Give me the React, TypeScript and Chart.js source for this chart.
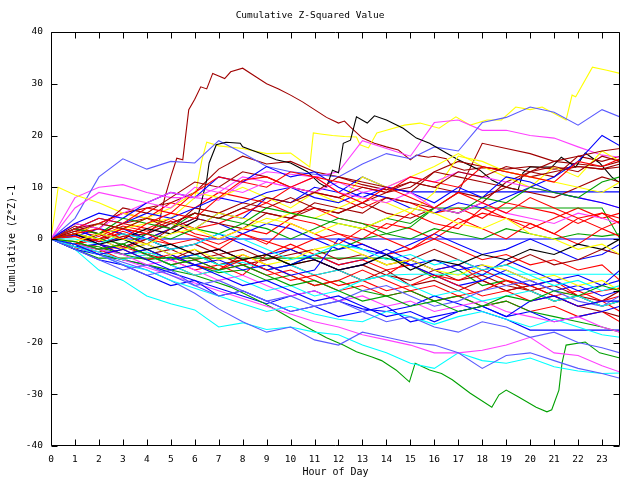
import React, { useEffect, useRef } from "react";
import { Chart, registerables } from "chart.js";

Chart.register(...registerables);

const TITLE = "Cumulative Z-Squared Value";
const X_TITLE = "Hour of Day";
const Y_TITLE = "Cumulative (Z*Z)-1";

const HOURS = [0, 1, 2, 3, 4, 5, 6, 7, 8, 9, 10, 11, 12, 13, 14, 15, 16, 17, 18, 19, 20, 21, 22, 23, 23.75];

// Prominent traces with their own sample times
const DARKRED_PEAK_H = [0, 1, 2, 3, 4, 4.5, 4.75, 5, 5.25, 5.5, 5.75, 6, 6.25, 6.5, 6.75, 7, 7.25, 7.5, 8, 8.5, 9, 9.5, 10, 10.5, 11, 11.5, 12, 12.25, 12.5, 13, 13.5, 14, 14.5, 15, 15.25, 15.75, 16, 16.5, 16.75, 17.25, 18, 19, 20, 21, 22, 23, 23.75];
const DARKRED_PEAK = [0, 1, -1, 0.5, 1, 3, 8, 12, 15.6, 15.3, 25, 27, 29.4, 29, 32, 31.5, 31, 32.3, 33, 31.5, 30, 29, 27.8, 26.5, 25, 23.5, 22.4, 22.8, 21.6, 19.5, 18.5, 17.8, 17.2, 15.3, 16.2, 15.8, 16, 15.5, 14, 13.3, 13.8, 13.5, 14, 13.5, 14, 13.5, 13.9];
const BLACK_TOP_H = [0, 1, 2, 3, 4, 5, 6.1, 6.5, 6.6, 6.9, 7.3, 7.9, 8, 8.7, 9.4, 10, 10.7, 11.2, 11.5, 11.75, 12, 12.2, 12.5, 12.75, 13.2, 13.5, 14, 14.7, 15.25, 15.8, 16.5, 17, 17.9, 18.4, 19, 19.5, 19.7, 20, 20.9, 21.3, 21.9, 22.3, 22.9, 23.4, 23.75];
const BLACK_TOP = [0, -1, 1, 0, 2, 1, 3.7, 11.4, 14.7, 18.2, 18.7, 18.5, 17.8, 16.6, 15.3, 14.7, 13, 10.8, 10, 13.3, 12.8, 18.5, 19.1, 23.6, 22.4, 23.8, 23, 21.4, 19.5, 18.5, 16.6, 15.3, 13.3, 11.4, 10, 9.5, 12.8, 13.9, 13.9, 15.8, 13.9, 16.6, 14.7, 12, 10.8];
const YELLOW_TOP_H = [0, 1, 2, 3, 4, 5, 6, 6.3, 6.5, 7, 8, 9, 10, 10.8, 10.95, 11.25, 11.75, 12.25, 12.75, 12.9, 13.25, 13.6, 14, 14.75, 15.4, 16.2, 16.9, 17.5, 18.2, 18.8, 19.4, 20, 20.5, 21.5, 21.75, 21.9, 22.6, 23.2, 23.75];
const YELLOW_TOP = [0, -1, 1, 2, 3, 4, 8, 15.3, 18.7, 18, 17.5, 16.5, 16.6, 13.9, 20.5, 20.3, 20, 19.8, 19.7, 18.2, 17.6, 20.5, 21, 22, 22.4, 21.4, 23.6, 22, 23, 23, 25.5, 25, 25.5, 23, 27.8, 27.5, 33.2, 32.6, 32];
const GREEN_LOW_H = [0, 1, 2, 3, 4, 5, 6, 7, 7.5, 8.8, 9.2, 10, 10.9, 11.5, 12.2, 12.75, 13.4, 13.8, 14.4, 14.96, 15.2, 15.8, 16.3, 16.75, 17.5, 18.4, 18.7, 19, 19.5, 20.25, 20.7, 20.9, 21.2, 21.33, 21.5, 22.3, 22.9, 23.75];
const GREEN_LOW = [0, -1.5, -3, -4, -5, -6, -7, -8.5, -9.3, -12.2, -13.2, -15.3, -17.6, -19.1, -20.5, -21.8, -22.8, -23.5, -25.3, -27.6, -24, -25.3, -26, -27.2, -29.8, -32.5, -30.1, -29.2, -30.5, -32.5, -33.4, -33, -29.2, -24, -20.5, -19.9, -22, -23];
const YELLOW_EARLY_H = [0, 0.3, 1, 2, 3, 4, 5, 6, 7, 8, 9, 10, 11, 12, 13, 14, 15, 16, 17, 18, 19, 20, 21, 22, 23, 23.75];
const YELLOW_EARLY = [0, 10, 8.5, 7, 5, 4, 6, 9, 8, 10, 8, 6, 9, 7, 12, 10, 12, 14, 16.5, 14, 12, 10, 14, 12, 17, 15];

// Hourly series
const PERI_TOP = [0, 4, 12, 15.5, 13.5, 15, 14.7, 19, 16.6, 14, 13, 12.5, 12, 14.5, 16.5, 15.5, 17.8, 17, 22.5, 23.5, 25.5, 24.5, 22, 25, 23.6];
const MAGENTA_TOP = [0, 8, 10, 10.5, 9, 8, 8, 7.5, 11, 13, 12.5, 12, 13, 19, 17.5, 16, 22.5, 23, 21, 21, 20, 19.5, 17.8, 16.2, 15.8];
const DARKRED_2 = [0, 2, 3, 5, 6, 7, 9, 13.5, 16, 14.5, 15, 13, 12, 10.5, 9.5, 11, 10, 9, 18.5, 17.5, 16.5, 15, 14.5, 14, 15];
const BLUE_FLAT_9 = [0, 2, 0, -2, 1, 3, 2, 5, 4, 8, 7, 10, 9, 12, 10, 9.1, 9.1, 9.1, 9.1, 9.1, 9.1, 9.1, 9.1, 9.1, 9.1];
const GREEN_FLAT_6 = [0, -1, -2, -3, -2, -4, -3, -5, -4, -3, -5, -3, -2, 0, 1, 2.3, 6, 6, 6, 6, 6, 6, 6, 6, 0];
const BLUE_ZERO = [0, 0.8, -0.5, 0, 0, 0, 0, 0, 0, 0, 0, 0, 0, 0, 0, 0, 0, 0, 0, 0, 0, 0, 0, 0, 0];
const GREEN_FLAT_M4 = [0, -2, -3.7, -3.7, -3.7, -3.7, -3.7, -3.7, -3.7, -3.7, -3.7, -3.7, -3.7, -3.7, -3.7, -5, -7.5, -6, -9, -8, -10, -12, -11, -13, -12];
const CYAN_FLAT_M7 = [0, -1, -2, -3, -2.5, -4, -3, -5, -4.5, -6, -5, -7, -6, -8, -7, -6.8, -6.8, -6.8, -6.8, -6.8, -6.8, -6.8, -6.8, -6.8, -6.8];
const BLUE_FLAT_M18 = [0, -2, -3, -4, -5, -6.5, -8, -9.5, -11, -12.5, -11, -10, -12, -13.5, -14, -13, -11, -12.5, -14, -15.5, -17.6, -17.6, -17.6, -17.6, -17.6];
const CYAN_LOW = [0, -2, -6, -8, -11, -12.5, -13.7, -17, -16.2, -17.5, -17, -18, -18.5, -20.5, -22, -24, -25, -22, -23.5, -24, -23, -24.7, -25.5, -26, -25.9];
const PERI_LOW = [0, -1.5, -3, -4.5, -6, -8, -10.5, -13.5, -16, -18, -17, -19.5, -20.5, -18, -19, -20, -20.5, -22, -25, -22.5, -22, -23.5, -25, -26, -26.9];
const MAGENTA_LOW = [0, -1, -2.5, -4, -5.5, -7, -8.5, -10, -11.5, -13, -14.5, -16, -17, -18.5, -19.5, -20.5, -22, -22, -21.5, -20.5, -19, -22, -22.5, -24.5, -25.7];
const CYAN_MID = [0, -1.5, -3, -5, -6, -8, -9.5, -11, -12.5, -14, -13, -14.5, -15.5, -16, -14, -15, -16.5, -15, -14, -15.5, -17, -15.5, -17, -18.5, -19];
const RED_A = [0, 1, 2, 0, 3, 5, 4, 8, 11.4, 12, 10, 12, 9, 7, 10, 8, 6, 9, 7, 5, 8, 6, 4, 5, 3];
const RED_B = [0, -1, 0, 2, 1, -1, 0, -2, 1, -1, 3, 1, -1, 2, 0, -2, 1, 4, 2, 0, 3, 1, -1, 2, 0.5];
const RED_C = [0, -1.5, -3, -2, -4, -3, -5, -6, -4, -6, -8, -7, -9, -8, -10, -9, -7, -9, -11, -10, -12, -11, -13, -12, -14];
const RED_D = [0, 0.5, -1, -2, 0, -1, -3, -2, -4, -3, -1, -3, -5, -4, -6, -5, -7, -8, -6, -8, -9, -11, -10, -12, -11];
const RED_E = [0, 2, 1, 3, 2, 4, 2, 3, 5, 7, 5, 6, 4, 3, 2, 5, 3, 2, 6, 4, 3, 1, 4, 2, 3.5];
const RED_F = [0, -1, -2, -1.5, -3, -5, -4, -6, -5, -7, -6, -8, -10, -9, -11, -10, -12, -11, -13, -12, -14, -13, -15, -14, -16];
const RED_G = [0, 1, -0.5, 1.5, 0, 2, 0.5, -1, 1, -0.5, -2, 0, 1, -1, -3, -2, 0, -2, -4, -3, -5, -4, -6, -5, -8];
const RED_H = [0, -2, -1, -3, -2, -4, -6, -5, -7, -3, -5, -4, -6, -8, -7, -4, -6, -5, -8, -10, -9, -8, -11, -10, -9.5];
const RED_I = [0, 1.5, 0.5, 2.5, 1.5, 3.5, 1, 0, 2, 1, 4, 3, 1, 0, 3, 2, 0, 3, 5, 4, 2, 4, 6, 4, 5];
const RED_J = [0, 2, 4, 3, 6, 5, 9, 12, 11, 10, 13, 12, 11, 10, 9, 12, 11, 10, 14, 13, 12, 11, 15, 14, 15.5];
const RED_K = [0, -1, -2, -4, -3, -5, -7, -6, -3, -5, -7, -9, -8, -6, -8, -10, -9, -11, -10, -8, -10, -12, -11, -13, -12];
const RED_L = [0, 1, 3, 5, 4, 7, 6, 9, 8, 7, 10, 9, 8, 6, 8, 7, 5, 6, 4, 7, 6, 5, 3, 5, 4];
const DARKRED_A = [0, 1.5, 3, 2, 4, 3, 5, 4, 6, 8, 7, 9, 8, 10, 9, 11, 10, 13, 12, 14, 13, 15, 16, 17, 17.5];
const DARKRED_B = [0, -1, 1, -1.5, 0, -2, -1, -3, -2, -4, -3, -2, -4, -3, -5, -4, -2, -4, -6, -5, -3, -5, -4, -2, -3];
const DARKRED_C = [0, 2.5, 1, 3, 4, 2, 6, 5, 7, 6, 8, 6, 5, 7, 9, 10, 13, 15, 14, 13, 12, 13, 14, 13.5, 14.5];
const DARKRED_D = [0, -0.5, -2, -1, -3, -4, -2, -5, -4, -6, -5, -7, -6, -8, -6, -9, -8, -10, -8, -10, -9, -11, -13, -14, -15];
const DARKRED_E = [0, 1, 0, 2, 1, 3, 5, 4, 6, 5, 4, 6, 5, 7, 5, 4, 6, 5, 7, 11, 13, 12, 16, 15, 16];
const DARKRED_F = [0, -1.5, -2.5, -1, -3, -2, -4, -3, -5, -4, -2, -4, -6, -5, -7, -8, -6, -8, -7, -9, -10, -9, -11, -12, -10];
const DARKRED_G = [0, 3, 2, 6, 5, 8, 11, 10, 13, 12, 10, 9, 12, 11, 10, 9, 13, 12, 11, 10, 13, 14, 13, 16, 15];
const DARKRED_H = [0, -1, 0, 1, -1, 2, 4, 3, 2, 5, 4, 7, 6, 5, 8, 7, 6, 9, 8, 10, 9, 8, 10, 12, 11];
const BLUE_A = [0, -1, -3, -2, -4, -6, -5, -7, -9, -8, -10, -12, -11, -13, -15, -14, -16, -14, -13, -15, -12, -11, -13, -12, -12];
const BLUE_B = [0, 1, -1, -2, -1, -3, -5, -4, -6, -5, -7, -6, 0, -2, -3, -5, -4, -6, -5, -7, -9, -8, -10, -9, -8];
const BLUE_C = [0, 2, 4, 3, 5, 4, 6, 8, 7, 9, 10, 8, 7, 9, 8, 6, 5, 7, 6, 8, 10, 12, 15, 20, 18];
const BLUE_D = [0, -1.5, -1, -3, -2, -4, -3, -2, -4, -6, -5, -3, -5, -4, -2, -4, -6, -5, -7, -4, -6, -8, -7, -9, -6];
const BLUE_E = [0, 0.5, 2, 1, 0, 2, 4, 3, 1, 3, 2, 0, -2, -1, -3, -1, 1, -1, -3, -2, 0, -2, -4, -3, -1];
const BLUE_F = [0, 3, 5, 4, 7, 9, 8, 12, 11, 14, 12, 13, 10, 8, 10, 9, 7, 10, 8, 12, 11, 9, 8, 7, 6];
const BLUE_G = [0, -2, -4, -5, -7, -9, -8, -11, -10, -12, -14, -13, -15, -14, -13, -16, -15, -14, -13, -15, -14, -16, -15, -14, -13];
const BLUE_H = [0, 1, 3, 2, 0, -2, -1, 1, -1, -3, -2, -4, -6, -5, -3, -5, -7, -9, -8, -6, -8, -10, -9, -11, -10];
const GREEN_A = [0, -0.5, -2, -1, -3, -5, -4, -6, -5, -7, -9, -8, -10, -12, -11, -13, -12, -14, -13, -11, -12, -10, -11, -9, -10];
const GREEN_B = [0, 1, 0, -1, 1, 0, 2, 1, 3, 2, 0, 2, 4, 3, 1, 0, 2, 1, 0, 2, 1, 0, 1, 0.5, 1];
const GREEN_C = [0, -1, -1.5, -3, -4, -3.5, -5, -6.5, -6, -8, -7, -9, -8, -10, -11, -10, -12, -11, -13, -12, -14, -15, -16, -17, -18];
const GREEN_D = [0, 2, 1, 4, 3, 2, 5, 4, 3, 6, 5, 4, 3, 2, 4, 3, 6, 5, 8, 7, 10, 9, 8, 11, 12];
const YELLOW_A = [0, -0.5, 1, 0, -1, 1, 2, 0, 2, 4, 3, 1, 3, 2, 4, 6, 5, 3, 2, 4, 1, 0, -2, -1, -3];
const YELLOW_B = [0, 1, 3, 2, 4, 3, 2, 5, 4, 3, 5, 4, 6, 8, 7, 5, 9, 16, 15, 13, 12, 11, 10, 9, 11];
const YELLOW_C = [0, 1, 0, -2, -1, -3, -2, -4, -3, -5, -4, -2, -1, -3, -5, -4, -6, -7, -5, -6, -8, -7, -9, -8, -10];
const MAGENTA_A = [0, 6, 9, 8, 7, 9, 8, 10, 9, 11, 10, 12, 9, 8, 7, 9, 6, 5, 7, 5, 4, 3, 5, 4, 3];
const MAGENTA_B = [0, -1, -2, -3, -5, -4, -6, -8, -7, -9, -11, -10, -12, -11, -13, -12, -14, -13, -12, -14, -15, -16, -15, -17, -18];
const MAGENTA_C = [0, 3, 2, 5, 7, 6, 10, 9, 12, 11, 10, 9, 11, 9, 10, 12, 11, 13, 12, 11, 10, 9, 8, 7, 6];
const CYAN_A = [0, -1, -2.5, -4, -3, -5, -7, -6, -8, -10, -9, -11, -10, -8, -7, -9, -11, -10, -12, -11, -10, -12, -11, -13, -12];
const CYAN_B = [0, 0, -1, 1, 0, -2, -1, 1, 0, -2, -4, -3, -1, -2, -4, -3, -5, -4, -6, -5, -7, -9, -8, -10, -9];
const PERI_A = [0, -2, -4, -6, -5, -7, -9, -8, -10, -12, -11, -13, -12, -10, -9, -11, -13, -12, -10, -9, -8, -10, -12, -13, -11];
const PERI_B = [0, -1, -3, -5, -7, -6, -9, -11, -10, -12, -14, -13, -12, -14, -16, -15, -17, -18, -16, -17, -19, -18, -20, -21, -22];
const BLACK_A = [0, 1, -1, 0, -2, -1, -3, -2, -4, -3, -5, -4, -6, -5, -3, -6, -4, -5, -3, -4, -2, -3, -1, -2, 0];

const RED = "#ff0000";
const DARKRED = "#a00000";
const BLUE = "#0000ff";
const PERI = "#5a5aff";
const MAGENTA = "#ff40ff";
const CYAN = "#00ffff";
const GREEN = "#00a000";
const YELLOW = "#ffff00";
const BLACK = "#000000";

const SERIES: [number[], number[], string][] = [
  [HOURS, RED_A, RED], [HOURS, GREEN_A, GREEN], [HOURS, BLUE_A, BLUE], [HOURS, MAGENTA_A, MAGENTA], [HOURS, CYAN_A, CYAN],
  [HOURS, DARKRED_A, DARKRED], [HOURS, YELLOW_A, YELLOW], [HOURS, BLACK_A, BLACK], [HOURS, PERI_A, PERI],
  [HOURS, RED_J, RED], [HOURS, GREEN_D, GREEN], [HOURS, BLUE_F, BLUE], [HOURS, MAGENTA_C, MAGENTA], [HOURS, CYAN_B, CYAN],
  [HOURS, DARKRED_G, DARKRED], [HOURS, YELLOW_C, YELLOW], [HOURS, PERI_B, PERI],
  [HOURS, RED_B, RED], [HOURS, GREEN_B, GREEN], [HOURS, BLUE_B, BLUE], [HOURS, MAGENTA_B, MAGENTA], [HOURS, CYAN_MID, CYAN],
  [HOURS, DARKRED_B, DARKRED], [HOURS, YELLOW_B, YELLOW], [HOURS, PERI_LOW, PERI],
  [HOURS, RED_K, RED], [HOURS, BLUE_G, BLUE], [HOURS, DARKRED_H, DARKRED],
  [HOURS, RED_C, RED], [HOURS, GREEN_C, GREEN], [HOURS, BLUE_C, BLUE], [HOURS, MAGENTA_LOW, MAGENTA], [HOURS, CYAN_LOW, CYAN],
  [HOURS, DARKRED_C, DARKRED], [YELLOW_EARLY_H, YELLOW_EARLY, YELLOW], [BLACK_TOP_H, BLACK_TOP, BLACK], [HOURS, PERI_TOP, PERI],
  [HOURS, RED_L, RED], [HOURS, BLUE_H, BLUE],
  [HOURS, RED_D, RED], [GREEN_LOW_H, GREEN_LOW, GREEN], [HOURS, BLUE_D, BLUE], [HOURS, MAGENTA_TOP, MAGENTA], [HOURS, CYAN_FLAT_M7, CYAN],
  [HOURS, DARKRED_D, DARKRED], [YELLOW_TOP_H, YELLOW_TOP, YELLOW],
  [HOURS, RED_E, RED], [HOURS, GREEN_FLAT_M4, GREEN], [HOURS, BLUE_E, BLUE],
  [HOURS, DARKRED_E, DARKRED], [HOURS, RED_F, RED], [HOURS, GREEN_FLAT_6, GREEN], [HOURS, BLUE_FLAT_M18, BLUE],
  [HOURS, DARKRED_F, DARKRED], [HOURS, RED_G, RED], [HOURS, BLUE_ZERO, BLUE], [HOURS, RED_H, RED], [HOURS, BLUE_FLAT_9, BLUE],
  [HOURS, RED_I, RED], [HOURS, DARKRED_2, DARKRED], [DARKRED_PEAK_H, DARKRED_PEAK, DARKRED],
];

const FONT = "'DejaVu Sans Mono', monospace";

const framePlugin = {
  id: "frameTicks",
  afterDraw(chart: any) {
    const { ctx, chartArea } = chart;
    const { left, right, top, bottom } = chartArea;
    const xs = chart.scales.x;
    const ys = chart.scales.y;
    const L = 6;
    ctx.save();
    ctx.strokeStyle = "#000";
    ctx.lineWidth = 1;
    ctx.beginPath();
    const l = Math.round(left) + 0.5, r = Math.round(right) - 0.5;
    const t = Math.round(top) + 0.5, b = Math.round(bottom) - 0.5;
    ctx.rect(l, t, r - l, b - t);
    xs.ticks.forEach((tk: any) => {
      const px = Math.round(xs.getPixelForValue(tk.value)) + 0.5;
      ctx.moveTo(px, b);
      ctx.lineTo(px, b - L);
      ctx.moveTo(px, t);
      ctx.lineTo(px, t + L);
    });
    ys.ticks.forEach((tk: any) => {
      const py = Math.round(ys.getPixelForValue(tk.value)) + 0.5;
      ctx.moveTo(l, py);
      ctx.lineTo(l + L, py);
      ctx.moveTo(r, py);
      ctx.lineTo(r - L, py);
    });
    ctx.stroke();
    ctx.restore();
  },
};

export default function App() {
  const ref = useRef<HTMLCanvasElement | null>(null);
  useEffect(() => {
    if (!ref.current) return;
    Chart.defaults.font.family = FONT;
    Chart.defaults.font.size = 9.5;
    Chart.defaults.color = "#000";
    const datasets = SERIES.map(([xs, vals, color], i) => ({
      label: "s" + i,
      data: vals.map((v, j) => ({ x: xs[j], y: v })),
      borderColor: color,
      backgroundColor: color,
      borderWidth: 1.1,
      pointRadius: 0,
      tension: 0,
      fill: false,
    }));
    const chart = new Chart(ref.current, {
      type: "line",
      data: { datasets },
      options: {
        animation: false,
        responsive: false,
        devicePixelRatio: 1,
        parsing: false as any,
        layout: { padding: { left: 0, right: 20, top: 0, bottom: 0 } },
        plugins: {
          legend: { display: false },
          tooltip: { enabled: false },
          title: {
            display: true,
            text: TITLE,
            color: "#000",
            font: { family: FONT, size: 9.5, weight: "normal" },
            padding: { top: 10, bottom: 10.6 },
          },
        },
        scales: {
          x: {
            type: "linear",
            min: 0,
            max: 23.75,
            grid: { display: false, drawTicks: false },
            border: { display: false },
            ticks: { stepSize: 1, includeBounds: false, padding: 8, maxRotation: 0, autoSkip: false, color: "#000", font: { family: FONT, size: 9.5 } },
            title: { display: true, text: X_TITLE, color: "#000", font: { family: FONT, size: 10 }, padding: { top: 0, bottom: 1.3 } },
            afterFit: (s: any) => { s.height = 34; },
          },
          y: {
            type: "linear",
            min: -40,
            max: 40,
            grid: { display: false, drawTicks: false },
            border: { display: false },
            ticks: { stepSize: 10, padding: 8, color: "#000", font: { family: FONT, size: 9.5 } },
            title: { display: true, text: Y_TITLE, color: "#000", font: { family: FONT, size: 10 }, padding: { top: 6, bottom: 0 } },
            afterFit: (s: any) => { s.width = 51; },
          },
        },
      },
      plugins: [framePlugin],
    });
    return () => chart.destroy();
  }, []);
  return (
    <div style={{ position: "fixed", left: 0, top: 0, width: 640, height: 480, background: "#fff" }}>
      <canvas ref={ref} width={640} height={480} style={{ width: 640, height: 480 }} />
    </div>
  );
}
